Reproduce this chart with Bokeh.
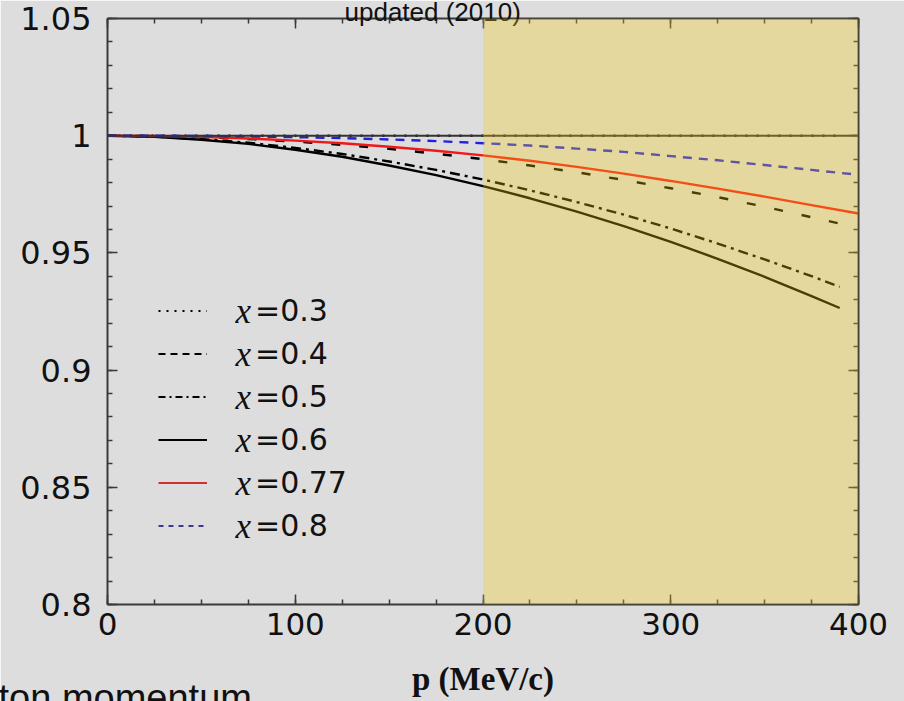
from bokeh.plotting import figure
from bokeh.models import (LinearAxis, FixedTicker, CustomJSTickFormatter, BoxAnnotation,
                          Span, Legend, LegendItem, Label, Title, ColumnDataSource)
from bokeh.embed import file_html
from bokeh.resources import INLINE

# ---------------- data ----------------
p_short = [0, 25, 50, 75, 100, 125, 150, 175, 200, 225, 250, 275, 300, 325, 350, 375, 390]
p_long = [0, 25, 50, 75, 100, 125, 150, 175, 200, 225, 250, 275, 300, 325, 350, 375, 400]

r_x03 = [1.0, 1.0, 1.0, 1.0, 1.0, 1.0, 1.0, 1.0, 1.0, 1.0, 1.0, 1.0, 1.0, 1.0, 1.0, 1.0, 1.0]
r_x04 = [1.0, 0.9998, 0.9994, 0.9986, 0.9975, 0.9961, 0.9944, 0.9923, 0.9900, 0.9873,
         0.9844, 0.9811, 0.9776, 0.9738, 0.9697, 0.9652, 0.9625]
r_x05 = [1.0, 0.9996, 0.9986, 0.9970, 0.9948, 0.9922, 0.9890, 0.9854, 0.9813, 0.9767,
         0.9717, 0.9663, 0.9604, 0.9540, 0.9472, 0.9401, 0.9355]
r_x06 = [1.0, 0.9995, 0.9983, 0.9965, 0.9940, 0.9910, 0.9873, 0.9832, 0.9785, 0.9733,
         0.9676, 0.9614, 0.9547, 0.9475, 0.9398, 0.9316, 0.9265]
r_x077 = [1.0, 0.9999, 0.9995, 0.9988, 0.9979, 0.9968, 0.9953, 0.9936, 0.9916, 0.9893,
          0.9867, 0.9838, 0.9807, 0.9774, 0.9740, 0.9704, 0.9668]
r_x08 = [1.0, 1.0, 0.9999, 0.9997, 0.9994, 0.9990, 0.9984, 0.9977, 0.9968, 0.9958,
         0.9945, 0.9931, 0.9913, 0.9895, 0.9875, 0.9854, 0.9833]

series_labels = ["=0.3", "=0.4", "=0.5", "=0.6", "=0.77", "=0.8"]
shade_start = 200
ref_level = 1.0

x_ticks = [0, 100, 200, 300, 400]
x_minor = [0, 25, 50, 75, 100, 125, 150, 175, 200, 225, 250, 275, 300, 325, 350, 375, 400]
y_ticks = [0.8, 0.85, 0.9, 0.95, 1.0, 1.05]
y_minor = [0.80, 0.81, 0.82, 0.83, 0.84, 0.85, 0.86, 0.87, 0.88, 0.89, 0.90, 0.91, 0.92,
           0.93, 0.94, 0.95, 0.96, 0.97, 0.98, 0.99, 1.00, 1.01, 1.02, 1.03, 1.04, 1.05]

title_text = "updated (2010)"
footer_text = "ton momentum"
x_label = "p (MeV/c)"

# ---------------- figure ----------------
BG = "#dddddd"
AX = "#3a3a3a"
p = figure(width=904, height=701, x_range=(0, 400), y_range=(0.8, 1.05),
           output_backend="svg", toolbar_location=None,
           min_border_left=107, min_border_right=46, min_border_top=18, min_border_bottom=97)
p.background_fill_color = BG
p.border_fill_color = BG
p.outline_line_color = None
p.grid.visible = False


def style_axis(ax):
    ax.axis_line_color = AX
    ax.axis_line_width = 2
    ax.major_tick_in = 10
    ax.major_tick_out = 0
    ax.minor_tick_in = 5
    ax.minor_tick_out = 0
    ax.major_tick_line_color = AX
    ax.major_tick_line_width = 1.5
    ax.minor_tick_line_color = AX
    ax.minor_tick_line_width = 1.5


xa = p.xaxis[0]
xa.ticker = FixedTicker(ticks=x_ticks, minor_ticks=x_minor)
style_axis(xa)
xa.major_label_text_font = "DejaVu Sans"
xa.major_label_text_font_size = "31px"
xa.major_label_text_color = "#111111"
xa.major_label_standoff = 8
xa.axis_label = x_label
xa.axis_label_text_font = "Liberation Serif"
xa.axis_label_text_font_style = "bold"
xa.axis_label_text_font_size = "33px"
xa.axis_label_text_color = "#111111"
xa.axis_label_standoff = 23

ya = p.yaxis[0]
ya.ticker = FixedTicker(ticks=y_ticks, minor_ticks=y_minor)
style_axis(ya)
ya.formatter = CustomJSTickFormatter(code="return String(Number(tick.toFixed(2)))")
ya.major_label_text_font = "DejaVu Sans"
ya.major_label_text_font_size = "32px"
ya.major_label_text_color = "#111111"
ya.major_label_standoff = 16

empty_fmt = "return ''"
top_ax = LinearAxis(ticker=FixedTicker(ticks=x_ticks, minor_ticks=x_minor),
                    formatter=CustomJSTickFormatter(code=empty_fmt),
                    major_label_text_font_size="1px", major_label_standoff=10)
style_axis(top_ax)
p.add_layout(top_ax, "above")
right_ax = LinearAxis(ticker=FixedTicker(ticks=y_ticks, minor_ticks=y_minor),
                      formatter=CustomJSTickFormatter(code=empty_fmt),
                      major_label_text_font_size="1px", major_label_standoff=0)
style_axis(right_ax)
p.add_layout(right_ax, "right")

# title (partly cut at the top of the page) and footer (cut at the bottom)
p.add_layout(Title(text=title_text, align="left", offset=237, standoff=-20,
                   vertical_align="top", text_font="Liberation Sans",
                   text_font_size="26px", text_font_style="normal",
                   text_color="#111111"), "above")
p.add_layout(Title(text=footer_text, align="left", offset=-109, standoff=-46,
                   vertical_align="top", text_font="Liberation Sans",
                   text_font_size="38px", text_font_style="normal",
                   text_color="#111111"), "below")

# reference line at 1
p.add_layout(Span(location=ref_level, dimension="width", line_color="#333333", line_width=2))

# curves
src_s = ColumnDataSource(dict(p=p_short, a=r_x03, b=r_x04, c=r_x05, d=r_x06))
src_l = ColumnDataSource(dict(p=p_long, e=r_x077, f=r_x08))
p.line("p", "a", source=src_s, line_color="black", line_width=2.4, line_dash="2 9")
p.line("p", "b", source=src_s, line_color="black", line_width=2.4, line_dash="9 19")
p.line("p", "c", source=src_s, line_color="black", line_width=2.4, line_dash="10 5 3 5")
p.line("p", "d", source=src_s, line_color="black", line_width=2.4)
p.line("p", "e", source=src_l, line_color="#f01818", line_width=2.4)
p.line("p", "f", source=src_l, line_color="#2020e0", line_width=2.4, line_dash="9 7")

# shaded region (drawn over everything, semi-transparent)
p.add_layout(BoxAnnotation(left=shade_start, fill_color="#f8cc12", fill_alpha=0.3,
                           line_color=None, level="overlay"))

# legend: sample renderers hold only NaN points so only the legend glyph shows
nan = float("nan")
leg_styles = [("black", "2 6", 2), ("black", "7 5", 2), ("black", "7 4 2 4", 2),
              ("black", "solid", 2), ("#d03030", "solid", 2), ("#3a3a90", "5 5", 2)]
items = []
for lab, (col, dash, w) in zip(series_labels, leg_styles):
    r = p.line(x=[nan, nan], y=[nan, nan], line_color=col, line_dash=dash, line_width=w)
    items.append(LegendItem(label=lab, renderers=[r]))

ROW = 43
LEG_X, LEG_Y = 51, 57
legend = Legend(items=items, location=(LEG_X, LEG_Y), orientation="vertical",
                glyph_width=49, glyph_height=ROW, label_height=ROW, spacing=0,
                padding=0, margin=0, label_standoff=48,
                label_text_font="DejaVu Sans", label_text_font_size="30px",
                label_text_color="#111111", border_line_color=None,
                background_fill_alpha=0)
p.add_layout(legend)

n = len(series_labels)
for i in range(n):
    yy = LEG_Y + n * ROW - (i + 0.5) * ROW
    p.add_layout(Label(x=LEG_X + 49 + 28, y=yy, x_units="screen", y_units="screen",
                       text="x", text_font="Liberation Serif", text_font_style="italic",
                       text_font_size="35px", text_baseline="middle", text_color="#111111"))

open("out.html", "w").write(file_html(p, INLINE))
